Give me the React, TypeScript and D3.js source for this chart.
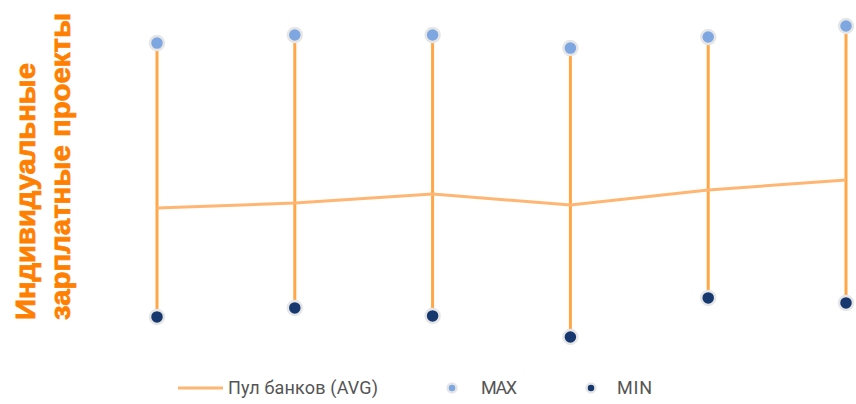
import React from "react";
import * as d3 from "d3";

const categories = ["1", "2", "3", "4", "5", "6"];
const maxValues = [91.0, 93.4, 93.4, 89.5, 92.8, 96.1];
const minValues = [9.0, 11.7, 9.3, 3.0, 14.7, 13.2];
const avgValues = [41.6, 43.1, 45.8, 42.5, 47.0, 50.0];
const titleLines = ["Индивидуальные", "зарплатные проекты"];
const legendLabels = ["Пул банков (AVG)", "MAX", "MIN"];

export default function App() {
  const W = 856, H = 404;
  const x = d3.scalePoint<string>().domain(categories).range([157, 846]);
  const y = d3.scaleLinear().domain([0, 100]).range([347, 13]);
  const line = d3
    .line<number>()
    .x((_, i) => x(categories[i])!)
    .y((d) => y(d));

  const legendFont = "Roboto, sans-serif";
  const titleLens = [257, 307];
  return (
    <svg
      width={W}
      height={H}
      style={{ position: "absolute", left: 0, top: 0 }}
    >
      <rect width={W} height={H} fill="#fff" />
      {categories.map((c, i) => (
        <line
          key={"v" + c}
          x1={x(c)}
          x2={x(c)}
          y1={y(maxValues[i])}
          y2={y(minValues[i])}
          stroke="#FFA646"
          strokeWidth={3}
        />
      ))}
      <path d={line(avgValues)!} fill="none" stroke="#FFB672" strokeWidth={3} />
      {categories.map((c, i) => (
        <circle
          key={"mx" + c}
          cx={x(c)}
          cy={y(maxValues[i])}
          r={7}
          fill="#7EA6E1"
          stroke="#E6E6E6"
          strokeWidth={2.5}
        />
      ))}
      {categories.map((c, i) => (
        <circle
          key={"mn" + c}
          cx={x(c)}
          cy={y(minValues[i])}
          r={7}
          fill="#16386F"
          stroke="#E6E6E6"
          strokeWidth={2.5}
        />
      ))}
      <g transform="translate(0,320) rotate(-90)">
        {titleLines.map((t, i) => (
          <text
            key={t}
            x={0}
            y={35 + i * 35}
            textLength={titleLens[i]}
            lengthAdjust="spacingAndGlyphs"
            fontFamily="Liberation Sans"
            fontWeight="bold"
            fontSize={28}
            fill="#FF7F00"
            stroke="#FF7F00"
            strokeWidth={0.8}
          >
            {t}
          </text>
        ))}
      </g>
      <g>
        <line x1={178} x2={223} y1={388} y2={388} stroke="#FFB672" strokeWidth={3} />
        <text x={228} y={394} fontFamily={legendFont} fontSize={18} fill="#555" textLength={150}>
          {legendLabels[0]}
        </text>
        <circle cx={452} cy={388} r={4.5} fill="#7EA6E1" stroke="#E6E6E6" strokeWidth={2.5} />
        <text x={481} y={394} fontFamily={legendFont} fontSize={18} fill="#555" textLength={36}>
          {legendLabels[1]}
        </text>
        <circle cx={591} cy={388} r={4.5} fill="#16386F" stroke="#E6E6E6" strokeWidth={2.5} />
        <text x={617} y={394} fontFamily={legendFont} fontSize={18} fill="#555" textLength={35}>
          {legendLabels[2]}
        </text>
      </g>
    </svg>
  );
}
